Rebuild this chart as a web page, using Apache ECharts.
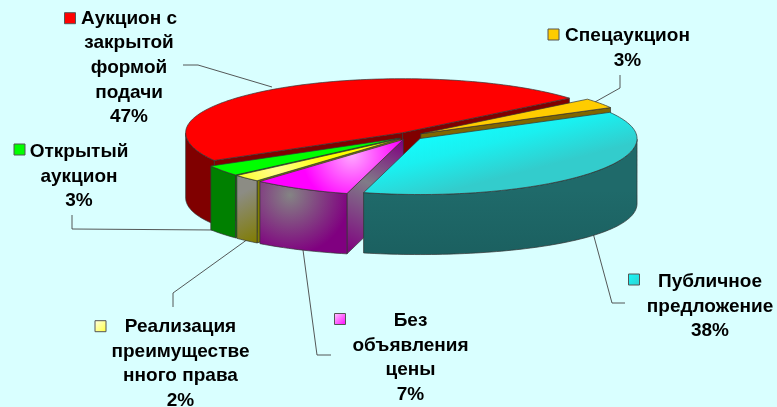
<!DOCTYPE html>
<html><head><meta charset="utf-8">
<style>html,body{margin:0;padding:0;background:#D9FFFF}#c{width:777px;height:407px}</style>
<script src="https://cdn.jsdelivr.net/npm/echarts@6/dist/echarts.min.js"></script>
</head><body><div id="c"></div>
<script>
// ---- data ----
const categories = ['Аукцион с\nзакрытой\nформой\nподачи','Спецаукцион','Публичное\nпредложение','Без\nобъявления\nцены','Реализация\nпреимуществе\nнного права','Открытый\nаукцион'];
const shares = [47,3,38,7,2,3];
// ---- layout ----
const drawOrder = [0,1,5,4,3,2];
const firstSliceAngle = 151;
const pie = {cx:410,cy:136,a:217,bBack:54,bFront:56,ex:13,ey:4,depth:60,depthSide:5};
const labelCenter = [[129,18.5],[627.5,36],[710,282],[410.5,320.7],[180.5,326.7],[79,152]];
const keyBox = [[64.5,12.7],[548,29],[628.5,274],[334.5,313.5],[95,320.7],[14,144]];
const leaders = [
  [[183,65],[198,65],[272,87]],
  [[620,75],[620,88],[595,102]],
  [[625,303],[612,303],[593,233]],
  [[331,355],[317,355],[303,250]],
  [[173,307],[173,293],[248,239]],
  [[72,215],[72,229],[215,230]]
];
// ---- colours ----
const G = echarts.graphic;
const stop = (a,b)=>[{offset:0,color:a},{offset:1,color:b}];
const rad = (x,y,r,a,b)=>new G.RadialGradient(x,y,r,stop(a,b),true);
const lin = (x,y,x2,y2,stops)=>new G.LinearGradient(x,y,x2,y2,stops,true);
const topFill = [
  '#FF0000','#FFCC00',
  lin(424,140,438,194,[{offset:0,color:'#14FAFA'},{offset:.35,color:'#1AF0F0'},{offset:1,color:'#33CCCC'}]),
  rad(352,155,50,'#FFA8FF','#FF00FF'),
  rad(275,165,50,'#FFFF99','#FFFF00'),
  '#00FF00'
];
const wallFill = [
  '#800000','#806600',
  lin(0,190,0,255,stop('#1F6A6A','#1B6060')),
  rad(290,195,60,'#848484','#800080'),
  lin(238,195,262,240,stop('#8C8C84','#807C00')),
  '#008000'
];
const faceFill = [
  '#800000','#806600',
  '#1F6868',
  lin(400,140,346,252,[{offset:0,color:'#800080'},{offset:.42,color:'#807C88'},{offset:1,color:'#800080'}]),
  '#808000','#008000'
];
const keyFill = [
  '#FF0000','#FFCC00',
  lin(628,274,641,286,stop('#14FAFA','#33CCCC')),
  lin(335,314,346,325,stop('#FFC0FF','#FF00FF')),
  lin(95,321,106,332,stop('#FFFFE0','#FFFF40')),
  '#00FF00'
];
const edge = '#333';
// ---- geometry derived from the shares ----
const total = shares.reduce((s,v)=>s+v,0);
const sliceAngles = []; // clockwise on screen, starting at firstSliceAngle
shares.reduce((start,v)=>{const end=start+v/total*360;sliceAngles.push([start,end]);return end;},firstSliceAngle);
const rads = d=>d*Math.PI/180;
function warp(d){const s=Math.sin(rads(d));return s>0?d-3*s*s:d;}   // slight foreshortening of the near side
function apex(i){const m=rads((sliceAngles[i][0]+sliceAngles[i][1])/2);return [pie.cx+pie.ex*Math.cos(m),pie.cy+pie.ey*Math.sin(m)];}
function rim(i,d){
  const c=apex(i),t=rads(warp(d)),s=Math.sin(t);
  return [c[0]+pie.a*Math.cos(t),c[1]+(s<0?pie.bBack:pie.bFront)*s];
}
function drop(p,d){const c=Math.cos(rads(warp(d)));return [p[0],p[1]+pie.depth+pie.depthSide*c*c];}

function renderSlice(params,api){
  const i=api.value(1),a0=sliceAngles[i][0],a1=sliceAngles[i][1],c=apex(i);
  const cBottom=[c[0],c[1]+pie.depth];
  const steps=Math.max(3,Math.ceil((a1-a0)/1.5));
  const angs=[];for(let k=0;k<=steps;k++)angs.push(a0+(a1-a0)*k/steps);
  const kids=[];
  const poly=(pts,fill)=>kids.push({type:'polygon',shape:{points:pts},style:{fill:fill,stroke:edge,lineWidth:.7}});
  // cut faces: only those turned towards the viewer
  if(Math.cos(rads(a0))<0){const p=rim(i,a0);poly([c,p,drop(p,a0),cBottom],faceFill[i]);}
  if(Math.cos(rads(a1))>0){const p=rim(i,a1);poly([c,p,drop(p,a1),cBottom],faceFill[i]);}
  // outer wall: only the arcs facing the viewer
  let run=[];
  const flush=()=>{if(run.length>1){const up=run.map(d=>rim(i,d)),dn=run.map(d=>drop(rim(i,d),d)).reverse();poly(up.concat(dn),wallFill[i]);}run=[];};
  angs.forEach(d=>{if(Math.sin(rads(d))>=-0.001)run.push(d);else flush();});flush();
  poly([c].concat(angs.map(d=>rim(i,d))),topFill[i]);
  return {type:'group',children:kids};
}
function renderLabel(params,api){
  const i=api.value(0),l=labelCenter[i],k=keyBox[i],lh=24.6;
  return {type:'group',children:[
    {type:'polyline',shape:{points:leaders[i]},style:{fill:null,stroke:'#444',lineWidth:.9}},
    {type:'rect',shape:{x:k[0],y:k[1],width:11,height:11},style:{fill:keyFill[i],stroke:'#555',lineWidth:1}},
    {type:'text',style:{text:categories[i]+'\n'+shares[i]+'%',x:l[0],y:l[1]-lh/2,align:'center',verticalAlign:'top',
      font:'bold 19px "Liberation Sans",Arial,sans-serif',lineHeight:lh,fill:'#000'}}
  ]};
}
const chart=echarts.init(document.getElementById('c'),null,{renderer:'canvas'});
chart.setOption({
  animation:false,
  backgroundColor:'#D9FFFF',
  series:[
    {type:'custom',coordinateSystem:'none',silent:true,z:1,renderItem:renderLabel,data:shares.map((v,i)=>[i,v])},
    {type:'custom',coordinateSystem:'none',silent:true,z:2,renderItem:renderSlice,data:drawOrder.map(i=>[shares[i],i])}
  ]
});
</script></body></html>
